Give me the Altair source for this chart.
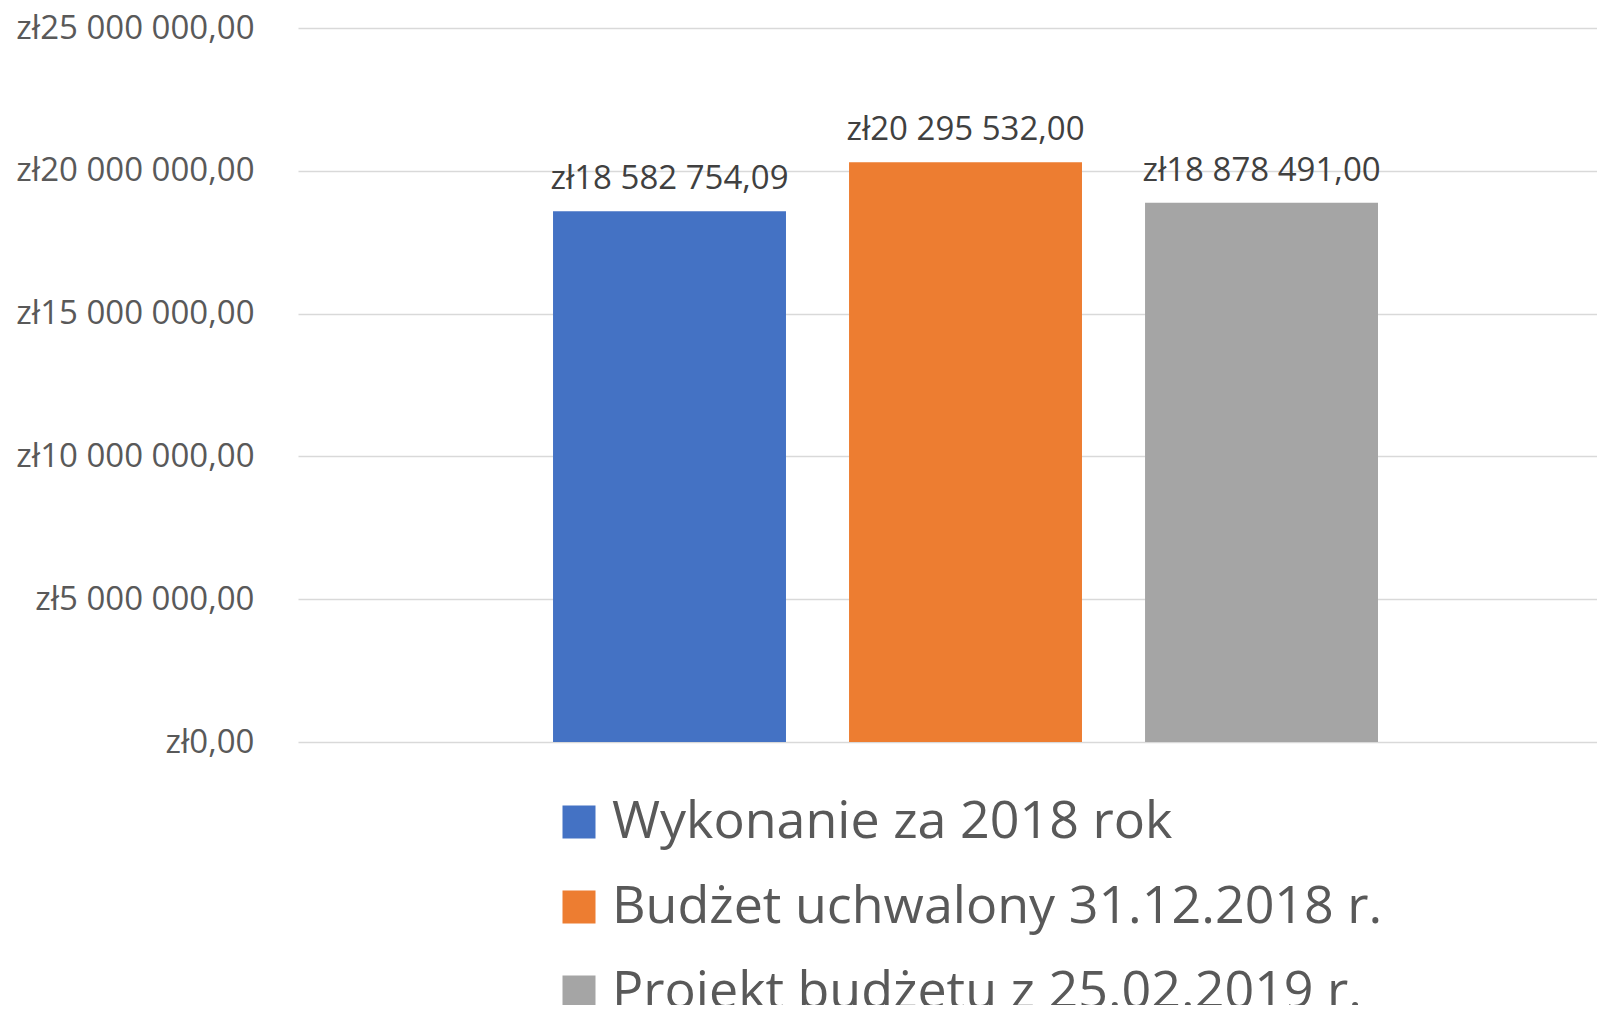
import altair as alt
import pandas as pd

series = ["Wykonanie za 2018 rok", "Budżet uchwalony 31.12.2018 r.", "Projekt  budżetu z 25.02.2019 r."]
values = [18582754.09, 20295532.00, 18878491.00]
colors = ["#4472C4", "#ED7D31", "#A5A5A5"]
y_ticks = [0, 5000000, 10000000, 15000000, 20000000, 25000000]

df = pd.DataFrame({"series": series, "value": values})

FONT = "Open Sans"
fmt_expr = "'zł' + replace(replace(format({v}, ',.2f'), regexp(',', 'g'), ' '), '.', ',')"

x = alt.X(
    "series:N",
    sort=series,
    axis=None,
    scale=alt.Scale(paddingInner=0.213, paddingOuter=0.8007, align=0.538),
)
y = alt.Y(
    "value:Q",
    scale=alt.Scale(domain=[0, 25000000], nice=False),
    axis=alt.Axis(
        values=y_ticks,
        title=None,
        domain=False,
        ticks=False,
        labelPadding=44,
        labelFontSize=33,
        labelFont=FONT,
        labelColor="#595959",
        labelLimit=0,
        labelFlush=False,
        gridColor="#D9D9D9",
        gridWidth=1.5,
        labelExpr=fmt_expr.format(v="datum.value"),
    ),
)

bars = alt.Chart(df).mark_bar().encode(
    x=x,
    y=y,
    color=alt.Color(
        "series:N",
        sort=series,
        scale=alt.Scale(domain=series, range=colors),
        legend=alt.Legend(
            title=None,
            orient="none",
            legendX=255,
            legendY=768,
            direction="vertical",
            symbolType="square",
            symbolSize=1089,
            symbolStrokeWidth=0,
            labelFontSize=52,
            labelFont=FONT,
            labelColor="#595959",
            labelOffset=7,
            rowPadding=33,
            labelLimit=0,
        ),
    ),
)

labels = alt.Chart(df).transform_calculate(
    label=fmt_expr.format(v="datum.value")
).mark_text(
    baseline="alphabetic", dy=-22, fontSize=33, font=FONT, color="#404040"
).encode(
    x=x,
    y="value:Q",
    text="label:N",
)

chart = alt.layer(bars, labels).properties(
    width=1299,
    height=714,
    autosize=alt.AutoSizeParams(type="none"),
    padding={"left": 290, "top": 20, "right": 0, "bottom": 263},
).configure_view(stroke=None)

chart.save("out.html", embed_options={"renderer": "svg", "actions": False})
